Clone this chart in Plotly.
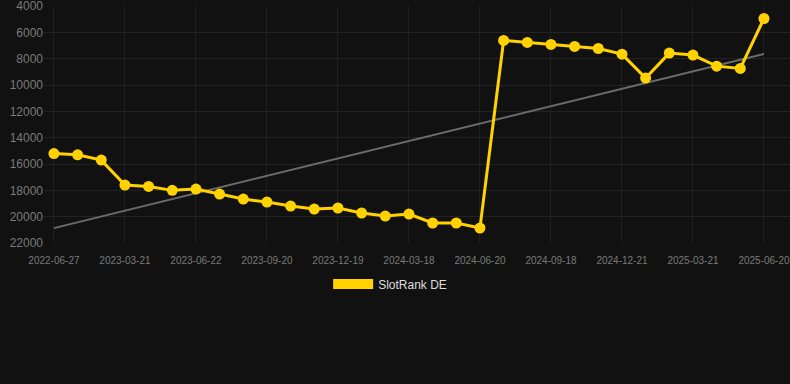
import numpy as np
import plotly.graph_objects as go

dates = ["2022-06-27", "2022-10-15", "2023-01-10", "2023-03-21", "2023-04-21", "2023-05-22",
         "2023-06-22", "2023-07-22", "2023-08-21", "2023-09-20", "2023-10-20", "2023-11-19",
         "2023-12-19", "2024-01-18", "2024-02-17", "2024-03-18", "2024-04-18", "2024-05-19",
         "2024-06-20", "2024-07-20", "2024-08-19", "2024-09-18", "2024-10-19", "2024-11-20",
         "2024-12-21", "2025-01-20", "2025-02-19", "2025-03-21", "2025-04-21", "2025-05-21",
         "2025-06-20"]
ranks = [15200, 15300, 15700, 17600, 17700, 18000,
         17900, 18280, 18660, 18890, 19190, 19420,
         19340, 19720, 19950, 19800, 20480, 20480,
         20860, 6610, 6760, 6910, 7060, 7220,
         7650, 9470, 7570, 7720, 8560, 8730,
         4940]
tick_labels = dates[::3]
y_ticks = list(range(4000, 22001, 2000))
series_name = "SlotRank DE"

idx = np.arange(len(ranks))
slope, intercept = np.polyfit(idx, ranks, 1)
trend = slope * idx + intercept

fig = go.Figure()
fig.add_trace(go.Scatter(
    x=idx, y=trend, mode="lines",
    line=dict(color="#6b6b6b", width=2),
    showlegend=False, hoverinfo="skip"))
fig.add_trace(go.Scatter(
    x=idx, y=ranks, mode="lines+markers",
    line=dict(color="#FFD200", width=3),
    marker=dict(color="#FFD200", size=11),
    showlegend=False, name=series_name))
fig.add_trace(go.Scatter(
    x=[None], y=[None], mode="lines",
    line=dict(color="#FFD200", width=12),
    name=series_name, showlegend=True))

fig.update_layout(
    width=790, height=384,
    paper_bgcolor="#111111", plot_bgcolor="#111111",
    margin=dict(l=44, r=0, t=6, b=141),
    font=dict(family="Liberation Sans, Arial, sans-serif", color="#888888"),
    showlegend=True,
    legend=dict(orientation="h", x=0.464, xanchor="center", y=-0.173, yanchor="middle",
                font=dict(size=12, color="#dddddd"), itemwidth=40,
                bgcolor="rgba(0,0,0,0)"),
)
fig.update_xaxes(
    range=[-0.42, 31.1],
    tickmode="array", tickvals=idx[::3], ticktext=tick_labels,
    tickfont=dict(size=10, color="#7a7a7a"),
    showgrid=True, gridcolor="#1f1f1f", gridwidth=1,
    zeroline=False, showline=False,
    ticks="outside", ticklen=8, tickcolor="rgba(0,0,0,0)",
)
fig.update_yaxes(
    range=[22000, 3990],
    tickmode="array", tickvals=y_ticks, ticktext=[str(v) for v in y_ticks],
    tickfont=dict(size=12, color="#7a7a7a"),
    ticklabeloverflow="allow",
    showgrid=True, gridcolor="#222222", gridwidth=1,
    zeroline=False, showline=False, ticks="",
)

fig.write_html("out.html", config={"displayModeBar": False},
               post_script="document.body.style.margin='0';")
